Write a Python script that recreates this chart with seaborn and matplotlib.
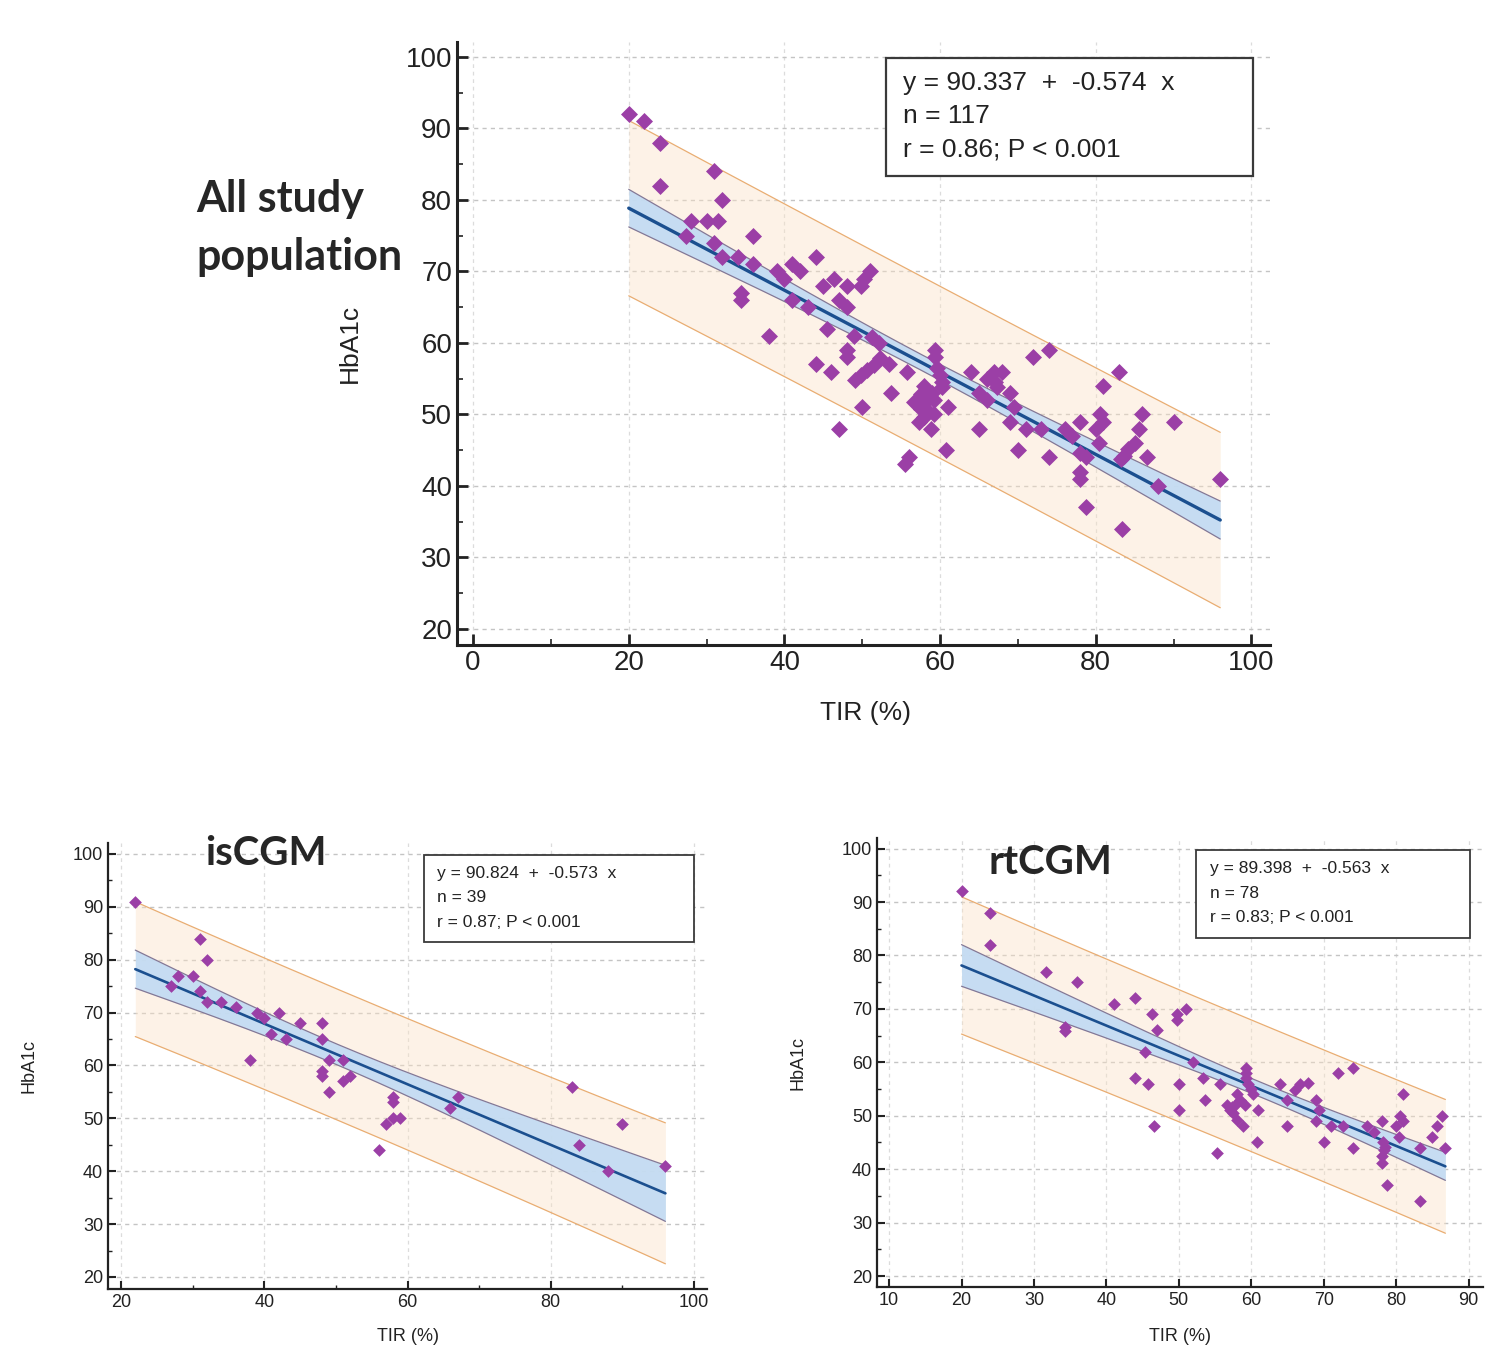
import numpy as np
import pandas as pd
import matplotlib
matplotlib.use("Agg")
import matplotlib.pyplot as plt
import seaborn as sns
from matplotlib.patches import Rectangle
from matplotlib.ticker import MultipleLocator

# ---- data ----
# All study population (n = 117)
all_tir = [20, 22, 24, 24, 31, 32, 28, 30, 31.5, 27.4, 31, 36, 32, 34, 36, 34.4, 34.4, 38, 39, 40,
           41, 42, 41, 43, 44, 45, 46.4, 45.5, 47, 48, 48, 48, 44, 46, 49, 47, 50, 48, 49.8, 50.2,
           51, 51.2, 52.1, 49.1, 49.8, 50.6, 51.5, 52.3,
           53.5, 55.8, 53.7, 59.3, 59.3, 59.6, 60.3, 60.3, 58, 57.5, 56.6, 58.3, 57.5, 59.2, 59.2, 57.9,
           57.3, 58.8, 61, 60.7, 56, 55.5, 64, 66, 66.9, 68, 67, 67.3, 65, 66, 65,
           72, 74, 69, 69.5, 69, 71, 73, 70, 74, 76, 77, 78, 80, 80.5, 81, 80.4, 78, 78.7, 78, 78,
           78.7, 81, 83, 86, 85.5, 85, 84.2, 83.6, 83.3, 86.6, 90, 88, 96, 83.4,
           57, 58.5, 59, 60]
all_hba1c = [92, 91, 88, 82, 84, 80, 77, 77, 77, 75, 74, 75, 72, 72, 71, 67, 66, 61, 70, 69,
             71, 70, 66, 65, 72, 68, 69, 62, 66, 65, 59, 58, 57, 56, 61, 48, 51, 68, 68, 69,
             70, 60.8, 60, 54.8, 55.5, 56.2, 56.9, 57.9,
             57, 56, 53, 59, 58, 56.5, 54.6, 53.9, 54, 52.9, 51.7, 52, 50.8, 52, 50, 49.6,
             49, 48, 51, 45, 44, 43, 56, 55, 56, 56, 54.6, 53.9, 53, 52, 48,
             58, 59, 53, 51, 49, 48, 48, 45, 44, 48, 47, 49, 48, 50, 49, 46, 44.6, 44, 42, 41,
             37, 54, 56, 50, 48, 46, 45.1, 44.2, 43.7, 44, 49, 40, 41, 34,
             51.5, 50.5, 53, 55.5]

# isCGM (n = 39)
is_tir = [22, 31, 32, 28, 30, 27, 31, 32, 34, 36, 39, 40, 42, 45, 41, 43, 38, 48, 48, 49,
          51, 48, 48, 52, 51, 49, 56, 57, 58, 59, 58, 58, 66, 67, 83, 90, 84, 88, 96]
is_hba1c = [91, 84, 80, 77, 77, 75, 74, 72, 72, 71, 70, 69, 70, 68, 66, 65, 61, 68, 65, 61,
            61, 59, 58, 58, 57, 55, 44, 49, 50, 50, 54, 53, 52, 54, 56, 49, 45, 40, 41]

# rtCGM (n = 78)
rt_tir = [20, 24, 24, 31.7, 36, 34.3, 34.3, 41, 44, 46.3, 47, 49.7, 49.7, 51, 45.4, 52, 44, 45.7,
          50, 53.4, 53.6, 50, 46.6, 55.3,
          55.7, 56.6, 57.3, 57.1, 57.8, 58, 58, 58.9, 59.2, 59.3, 59.3, 59.3, 60, 60.2, 61, 60.8,
          64, 65, 65, 66.1, 66.7, 67.8, 69, 69.4, 69, 70, 71, 72.7, 72, 74, 74, 76, 77, 78,
          78.2, 78.5, 78, 78, 78.7, 80, 80.5, 81, 80.4, 81, 83.3, 83.3, 85, 85.7, 86.3, 86.8,
          57.5, 58.5, 59.6, 78.3]
rt_hba1c = [92, 88, 82, 77, 75, 66.7, 65.8, 71, 72, 69, 66, 69, 68, 70, 62, 60, 57, 56,
            56, 57, 53, 51, 48, 43,
            56, 52.1, 51.6, 51, 52.1, 54, 49.3, 48.1, 52, 59, 58, 57, 55, 54, 51, 45,
            56, 53, 48, 54.9, 56, 56.1, 53, 51, 49, 45, 48, 48, 58, 59, 44, 48, 47, 49,
            45, 44.1, 42.4, 41.1, 37, 48, 49.9, 49, 46, 54, 44, 34, 46, 48, 50, 44,
            50.5, 53, 56, 43.5]

# regression coefficients and statistics printed in the boxes
all_coef = [90.337, -0.574]
is_coef = [90.824, -0.573]
rt_coef = [89.398, -0.563]
all_stats = ["y = 90.337  +  -0.574  x", "n = 117", "r = 0.86; P < 0.001"]
is_stats = ["y = 90.824  +  -0.573  x", "n = 39", "r = 0.87; P < 0.001"]
rt_stats = ["y = 89.398  +  -0.563  x", "n = 78", "r = 0.83; P < 0.001"]

sns.set_theme(style="ticks")
plt.rcParams["font.family"] = ["Liberation Sans", "DejaVu Sans"]

point_color = "#9b3fa6"
line_color = "#1b4f8f"


def draw_panel(ax, tir, hba1c, coef, stats, big):
    df = pd.DataFrame({"TIR": tir, "HbA1c": hba1c})
    x = df["TIR"].to_numpy(float)
    y = df["HbA1c"].to_numpy(float)
    n = len(x)
    resid = y - (coef[0] + coef[1] * x)
    s = np.sqrt(np.sum(resid ** 2) / (n - 2))
    sxx = np.sum((x - x.mean()) ** 2)
    t = 1.96 + 2.4 / (n - 2)
    xs = np.linspace(x.min(), x.max(), 200)
    fit = coef[0] + coef[1] * xs
    ci = t * s * np.sqrt(1 / n + (xs - x.mean()) ** 2 / sxx)
    pi = t * s * np.sqrt(1 + 1 / n + (xs - x.mean()) ** 2 / sxx)

    # prediction band
    ax.fill_between(xs, fit - pi, fit + pi, color="#fbe2c6", alpha=0.42, lw=0, zorder=1)
    ax.plot(xs, fit + pi, color="#e9ad72", lw=0.9, zorder=2)
    ax.plot(xs, fit - pi, color="#e9ad72", lw=0.9, zorder=2)
    # confidence band
    ax.fill_between(xs, fit - ci, fit + ci, color="#c2dbf3", alpha=0.92, lw=0, zorder=3)
    ax.plot(xs, fit + ci, color="#837896", lw=0.9, zorder=3)
    ax.plot(xs, fit - ci, color="#837896", lw=0.9, zorder=3)
    sns.lineplot(x=xs, y=fit, color=line_color, lw=2.4 if big else 1.9, ax=ax, zorder=4)

    sns.scatterplot(data=df, x="TIR", y="HbA1c", marker="D", color=point_color,
                    s=75 if big else 42, linewidth=0, ax=ax, zorder=5)

    # box with fit statistics
    fs = 19 if big else 12.5
    ax.add_patch(Rectangle((0.527, 0.778), 0.452, 0.195, transform=ax.transAxes,
                           facecolor="white", edgecolor="#3a3a3a", lw=1.6 if big else 1.3,
                           zorder=6))
    for ty, line in zip([0.932, 0.877, 0.822], stats):
        ax.text(0.549, ty, line, transform=ax.transAxes, va="center", ha="left",
                fontsize=fs, color="#222222", zorder=7)

    # axes styling
    for side in ["top", "right"]:
        ax.spines[side].set_visible(False)
    for side in ["left", "bottom"]:
        ax.spines[side].set_linewidth(2.2 if big else 1.6)
        ax.spines[side].set_color("#222222")
    ax.grid(True, which="major", axis="y", color="#c4c4c4", ls=(0, (3, 3)), lw=1.0)
    ax.grid(True, which="major", axis="x", color="#dcdcdc", ls=(0, (3, 3)), lw=0.9)
    ax.yaxis.set_major_locator(MultipleLocator(10))
    ax.yaxis.set_minor_locator(MultipleLocator(5))
    ax.tick_params(which="both", direction="in", left=True, bottom=True, top=False, right=False,
                   colors="#222222")
    ax.tick_params(which="major", length=8 if big else 6, width=2 if big else 1.5,
                   labelsize=20 if big else 13)
    ax.tick_params(which="minor", length=4 if big else 3, width=1.2 if big else 1)
    ax.set_xlabel("TIR (%)", fontsize=19 if big else 13, color="#222222")
    ax.set_ylabel("HbA1c", fontsize=19 if big else 13, color="#222222")


fig = plt.figure(figsize=(15, 13.67), dpi=100)

ax_all = fig.add_axes([0.3047, 0.5282, 0.542, 0.4411])
draw_panel(ax_all, all_tir, all_hba1c, all_coef, all_stats, big=True)
ax_all.set_xlim(-2.06, 102.4)
ax_all.set_ylim(17.76, 102.1)
ax_all.xaxis.set_major_locator(MultipleLocator(20))
ax_all.xaxis.set_minor_locator(MultipleLocator(10))
ax_all.xaxis.set_label_coords(0.503, -0.093)
ax_all.yaxis.set_label_coords(-0.117, 0.5)

ax_is = fig.add_axes([0.072, 0.0571, 0.3993, 0.3263])
draw_panel(ax_is, is_tir, is_hba1c, is_coef, is_stats, big=False)
ax_is.set_xlim(18.19, 101.8)
ax_is.set_ylim(17.73, 102.1)
ax_is.xaxis.set_major_locator(MultipleLocator(20))
ax_is.xaxis.set_minor_locator(MultipleLocator(10))
ax_is.xaxis.set_label_coords(0.501, -0.087)
ax_is.yaxis.set_label_coords(-0.117, 0.5)

ax_rt = fig.add_axes([0.5847, 0.0585, 0.404, 0.3285])
draw_panel(ax_rt, rt_tir, rt_hba1c, rt_coef, rt_stats, big=False)
ax_rt.set_xlim(8.34, 92.0)
ax_rt.set_ylim(17.94, 102.0)
ax_rt.xaxis.set_major_locator(MultipleLocator(10))
ax_rt.xaxis.set_minor_locator(MultipleLocator(10))
ax_rt.xaxis.set_label_coords(0.5, -0.091)
ax_rt.yaxis.set_label_coords(-0.117, 0.5)

# panel titles
title_font = ["Lato", "DejaVu Sans"]
fig.text(0.1307, 0.833, "All study\npopulation", ha="left", va="center", fontsize=31,
         fontweight="bold", family=title_font, linespacing=1.55)
fig.text(0.1367, 0.376, "isCGM", ha="left", va="center", fontsize=29,
         fontweight="bold", family=title_font)
fig.text(0.6587, 0.3694, "rtCGM", ha="left", va="center", fontsize=29,
         fontweight="bold", family=title_font)

fig.savefig("out.png", dpi=100)
